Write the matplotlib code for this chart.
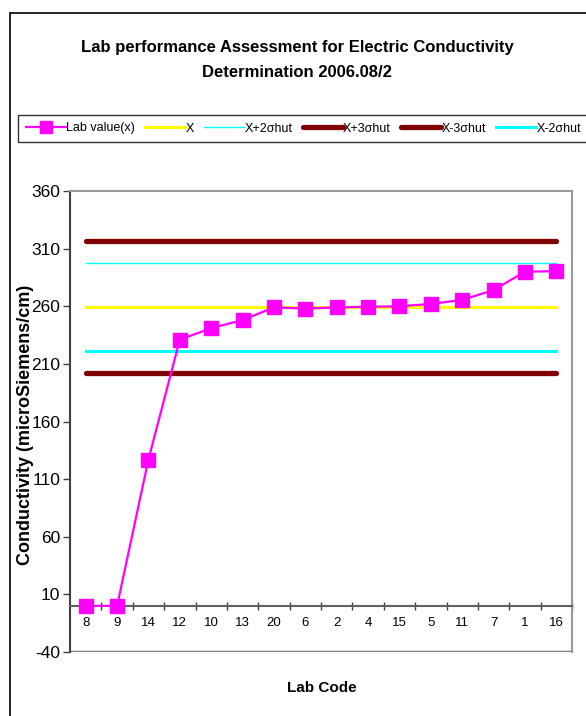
import matplotlib
matplotlib.use("Agg")
import matplotlib.pyplot as plt
from matplotlib.patches import Rectangle
from matplotlib.ticker import FixedLocator, NullFormatter

plt.rcParams['font.family'] = ['Liberation Sans', 'DejaVu Sans']
plt.rcParams['axes.unicode_minus'] = False

# data
lab_codes = ['8', '9', '14', '12', '10', '13', '20', '6', '2', '4', '15', '5', '11', '7', '1', '16']
lab_values = [0, 0, 127, 231, 241, 248, 259, 258, 259, 259.5, 260, 262, 265.5, 274, 290, 290.5]
x_assigned = 259.4
x_plus_2s = 297.5
x_plus_3s = 316.6
x_minus_3s = 202.2
x_minus_2s = 221.3
y_ticks = [-40, 10, 60, 110, 160, 210, 260, 310, 360]

n = len(lab_codes)
pos = list(range(n))

fig = plt.figure(figsize=(5.86, 7.16), dpi=100)
W, H = 586, 716
ax = fig.add_axes([70 / W, 1 - 652 / H, (572 - 70) / W, (652 - 191) / H])

ax.plot(pos, [x_assigned] * n, color='#FFFF00', lw=2.2, label='X', zorder=2)
ax.plot(pos, [x_plus_2s] * n, color='#00FFFF', lw=1.0, label='X+2σhut', zorder=2)
ax.plot(pos, [x_plus_3s] * n, color='#800000', lw=3.8, label='X+3σhut', zorder=2,
        solid_capstyle='round')
ax.plot(pos, [x_minus_3s] * n, color='#800000', lw=3.8, label='X-3σhut', zorder=2,
        solid_capstyle='round')
ax.plot(pos, [x_minus_2s] * n, color='#00FFFF', lw=2.2, label='X-2σhut', zorder=2)
ax.plot(pos, lab_values, color='#FF00FF', lw=1.6, marker='s', markersize=10,
        label='Lab value(x)', zorder=4)

ax.set_xlim(-0.5, n - 0.5)
ax.set_ylim(-40, 360)
ax.set_yticks(y_ticks)
ax.tick_params(axis='y', labelsize=12.5, length=5, width=1, color='#404040', pad=2)

# category axis crosses at zero
ax.spines['bottom'].set_position(('data', 0))
ax.spines['bottom'].set_color('#606060')
ax.spines['bottom'].set_linewidth(1.5)
ax.set_xticks(pos)
ax.set_xticklabels(lab_codes, fontsize=9.5)
ax.tick_params(axis='x', which='major', length=0, pad=8)
ax.xaxis.set_minor_locator(FixedLocator([i + 0.5 for i in range(n)]))
ax.xaxis.set_minor_formatter(NullFormatter())
ax.tick_params(axis='x', which='minor', length=6, direction='inout', color='#404040', width=1)
ax.axhline(-40, color='#808080', lw=2.5, zorder=1)

ax.spines['left'].set_color('#404040')
ax.spines['left'].set_linewidth(1.5)
ax.spines['top'].set_color('#999999')
ax.spines['top'].set_linewidth(1.5)
ax.spines['right'].set_color('#999999')
ax.spines['right'].set_linewidth(1.5)

fig.text(26 / W, 1 - 425 / H, 'Conductivity (microSiemens/cm)', rotation=90,
         ha='center', va='center', fontsize=13, fontweight='bold')
fig.text(322 / W, 1 - 688 / H, 'Lab Code', ha='center', va='center',
         fontsize=11, fontweight='bold')
fig.text(297 / W, 1 - 60 / H,
         'Lab performance Assessment for Electric Conductivity\nDetermination 2006.08/2',
         ha='center', va='center', fontsize=12, fontweight='bold', linespacing=1.9)

# legend in the order of the original
handles, labels = ax.get_legend_handles_labels()
order = ['Lab value(x)', 'X', 'X+2σhut', 'X+3σhut', 'X-3σhut', 'X-2σhut']
hmap = dict(zip(labels, handles))
leg = fig.legend([hmap[k] for k in order], order, loc='upper left',
                 bbox_to_anchor=(18 / W, 1 - 115 / H), borderaxespad=0, ncol=6, fontsize=9,
                 frameon=True, fancybox=False, edgecolor='black', handlelength=3.2,
                 handletextpad=0.05, columnspacing=0.8, borderpad=0.6, markerscale=0.8)
leg.get_frame().set_linewidth(1.0)

fig.patches.append(Rectangle((10 / W, -0.05), 1.2, 1 - 13 / H + 0.05, transform=fig.transFigure,
                             fill=False, edgecolor='black', lw=1.2))

fig.savefig('out.png', dpi=100)
